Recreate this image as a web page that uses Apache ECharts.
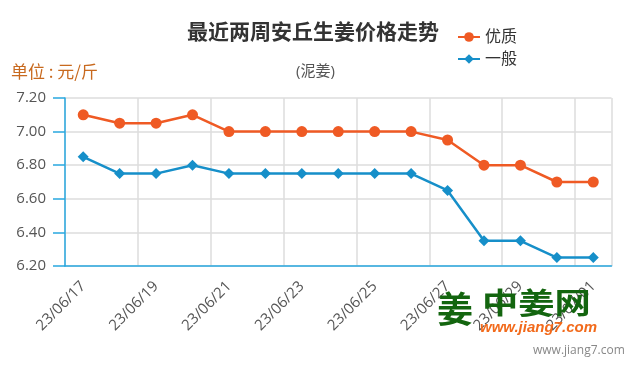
<!DOCTYPE html>
<html><head><meta charset="utf-8">
<script src="https://cdn.jsdelivr.net/npm/echarts@6/dist/echarts.min.js"></script>
<style>html,body{margin:0;padding:0;background:#fff}#c{width:635px;height:375px}</style>
</head><body><div id="c"></div>
<script>
var categories = ['23/06/17','23/06/18','23/06/19','23/06/20','23/06/21','23/06/22','23/06/23','23/06/24','23/06/25','23/06/26','23/06/27','23/06/28','23/06/29','23/06/30','23/07/01'];
var premium = [7.10,7.05,7.05,7.10,7.00,7.00,7.00,7.00,7.00,7.00,6.95,6.80,6.80,6.70,6.70];
var ordinary = [6.85,6.75,6.75,6.80,6.75,6.75,6.75,6.75,6.75,6.75,6.65,6.35,6.35,6.25,6.25];
var seriesNames = ['优质','一般'];
var titleText = '最近两周安丘生姜价格走势';
var subtitleText = '(泥姜)';
var unitText = '单位 : 元/斤';

var FONT = '"Open Sans","Noto Sans CJK SC",sans-serif';
var chart = echarts.init(document.getElementById('c'));
chart.setOption({
  animation: false,
  backgroundColor: '#fff',
  title: [
    {text: titleText, left: 182, top: 18, textStyle: {fontSize: 21, fontWeight: 'bold', color: '#333', fontFamily: FONT}},
    {text: subtitleText, left: 291, top: 59, textStyle: {fontSize: 15, fontWeight: 'normal', color: '#555', fontFamily: FONT}}
  ],
  legend: {
    orient: 'vertical', left: 452, top: 24, itemWidth: 22, itemHeight: 12, itemGap: 6,
    textStyle: {fontSize: 16, color: '#333', fontFamily: FONT},
    data: seriesNames
  },
  grid: {left: 65, right: 23.5, top: 98, bottom: 109},
  xAxis: {
    type: 'category', data: categories, boundaryGap: true,
    axisLine: {lineStyle: {color: '#29a8e0', width: 1.5}},
    axisTick: {alignWithLabel: true, interval: 1, length: 13, lineStyle: {color: '#29a8e0', width: 1.5}},
    axisLabel: {interval: 1, rotate: 45, margin: 18, color: '#555', fontSize: 15, fontFamily: FONT},
    splitLine: {show: true, interval: 1, lineStyle: {color: '#ddd', width: 1.5}}
  },
  yAxis: {
    type: 'value', min: 6.2, max: 7.2, interval: 0.2,
    axisLine: {show: true, lineStyle: {color: '#29a8e0', width: 1.5}},
    axisTick: {show: true, length: 12, lineStyle: {color: '#29a8e0', width: 1.5}},
    axisLabel: {margin: 19, color: '#555', fontSize: 15, fontFamily: FONT, formatter: function(v){return v.toFixed(2);}},
    splitLine: {lineStyle: {color: '#ddd', width: 1.5}}
  },
  series: [
    {name: seriesNames[0], type: 'line', data: premium, symbol: 'circle', symbolSize: 11,
     itemStyle: {color: '#ef5a24'}, lineStyle: {color: '#ef5a24', width: 2.5}},
    {name: seriesNames[1], type: 'line', data: ordinary, symbol: 'diamond', symbolSize: 11,
     itemStyle: {color: '#168fc9'}, lineStyle: {color: '#168fc9', width: 2.5}}
  ],
  graphic: [
    {type: 'text', left: 11, top: 63, style: {text: unitText, fill: '#c8691e', font: '17px "Noto Sans CJK SC",sans-serif'}},
    {type: 'text', x: 437, y: 291, z: 100, style: {text: '姜', fill: '#13650f', font: 'bold 36px "Noto Sans CJK SC",sans-serif'}},
    {type: 'text', x: 482, y: 288, scaleX: 1.25, z: 100, style: {text: '中姜网', fill: '#13650f', font: 'bold 29px "Noto Sans CJK SC",sans-serif'}},
    {type: 'text', x: 480, y: 320, z: 100, style: {text: 'www.jiang7.com', fill: '#f26a1b', font: 'italic bold 15px "Liberation Sans",sans-serif'}},
    {type: 'text', x: 533, y: 345, z: 100, style: {text: 'www.jiang7.com', fill: '#888', font: '12px "Open Sans",sans-serif'}}
  ]
});
</script></body></html>
